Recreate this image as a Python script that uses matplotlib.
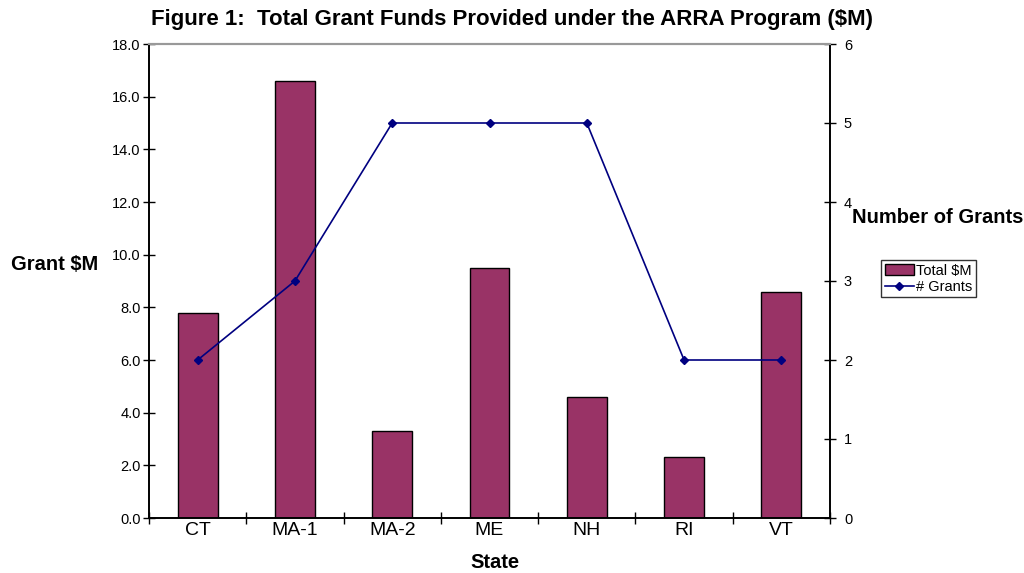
import matplotlib
matplotlib.use("Agg")
import matplotlib.pyplot as plt
import numpy as np

plt.rcParams['font.family'] = ['Liberation Sans', 'DejaVu Sans']

states = ["CT", "MA-1", "MA-2", "ME", "NH", "RI", "VT"]
total_m = [7.8, 16.6, 3.3, 9.5, 4.6, 2.3, 8.6]
num_grants = [2, 3, 5, 5, 5, 2, 2]

fig = plt.figure(figsize=(10.24, 5.73), dpi=100)
ax = fig.add_axes([149/1024, 1-518/573, (830-149)/1024, (518-44)/573])
ax2 = ax.twinx()

x = np.arange(len(states))
bars = ax.bar(x, total_m, width=0.41, color="#993366", edgecolor="black", linewidth=1.0, label="Total $M", zorder=2)
ax.set_xlim(-0.5, len(states) - 0.5)
ax.set_ylim(0, 18)
ax.set_yticks(np.arange(0, 18.1, 2))
ax.set_yticklabels([f"{v:.1f}" for v in np.arange(0, 18.1, 2)], fontsize=10.5)
ax.set_xticks(np.arange(-0.5, len(states), 1))
ax.set_xticklabels([])
ax.set_xticks(x, minor=True)
ax.set_xticklabels(states, minor=True, fontsize=14)
ax.tick_params(axis='x', which='minor', length=0, pad=3)
ax.tick_params(axis='x', which='major', direction='inout', length=8, width=1)
ax.tick_params(axis='y', direction='inout', length=8, width=1, pad=2)

line, = ax2.plot(x, num_grants, color="#000080", marker="D", markersize=4.5, linewidth=1.2, label="# Grants", zorder=3)
ax2.set_ylim(0, 6)
ax2.set_yticks(range(0, 7))
ax2.set_yticklabels([str(v) for v in range(0, 7)], fontsize=10.5)
ax2.tick_params(axis='y', direction='inout', length=8, width=1, pad=6)

for a in (ax, ax2):
    a.spines['top'].set_color('#999999')
    a.spines['top'].set_linewidth(1.5)
    a.spines['left'].set_linewidth(1.2)
    a.spines['right'].set_linewidth(1.2)
    a.spines['bottom'].set_linewidth(1.2)

fig.text(512/1024, 1-19/573, "Figure 1:  Total Grant Funds Provided under the ARRA Program ($M)",
         ha='center', va='center', fontsize=16, fontweight='bold')
fig.text(55/1024, 1-265/573, "Grant $M", ha='center', va='center', fontsize=14.5, fontweight='bold')
fig.text(938/1024, 1-218/573, "Number of Grants", ha='center', va='center', fontsize=14.5, fontweight='bold')
fig.text(495/1024, 1-563/573, "State", ha='center', va='center', fontsize=14.5, fontweight='bold')

leg = fig.legend([bars, line], ["Total $M", "# Grants"], loc='upper left',
                 bbox_to_anchor=(881/1024, 1-260/573), fontsize=10.5, frameon=True,
                 fancybox=False, edgecolor='black', handlelength=2.0, handletextpad=0.15,
                 borderpad=0.25, labelspacing=0.15, borderaxespad=0)
leg.get_frame().set_linewidth(1.0)

fig.savefig("out.png", dpi=100)
